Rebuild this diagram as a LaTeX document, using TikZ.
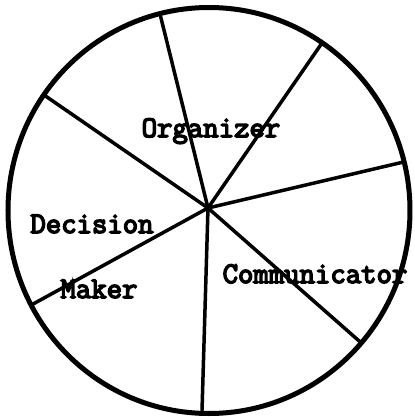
\documentclass[tikz,border=0pt]{standalone}
\usepackage{fontspec}
\newfontfamily\typer[AutoFakeBold=5]{Latin Modern Mono}
\tikzset{
  rim/.style = {line width=5bp},
  spoke/.style = {line width=3.5bp, line cap=round},
  role/.style = {font=\fontsize{30}{36}\selectfont\typer\bfseries, inner sep=0pt, anchor=base}
}
\begin{document}
\begin{tikzpicture}[x=1bp,y=1bp]
  \useasboundingbox (-209,-206.5) rectangle (206,210.5);
  \draw[rim] (0,0) ellipse [x radius=201, y radius=203];
  \coordinate (hub) at (-1,2.5);
  \foreach \a/\n in {104/top, 56/upright, 14/right, -41/lowright, 268/bottom, 208/lowleft, 145/upleft}
    \draw[spoke] (hub) -- (\a:200) coordinate (\n);
  \node[role] (org) at (2,73.5) {Organizer};
  \node[role] (dec) at (-117,-22.5) {Decision};
  \node[role] (mak) at (-110,-87.5) {Maker};
  \node[role] (com) at (106,-72.5) {Communicator};
\end{tikzpicture}
\end{document}
